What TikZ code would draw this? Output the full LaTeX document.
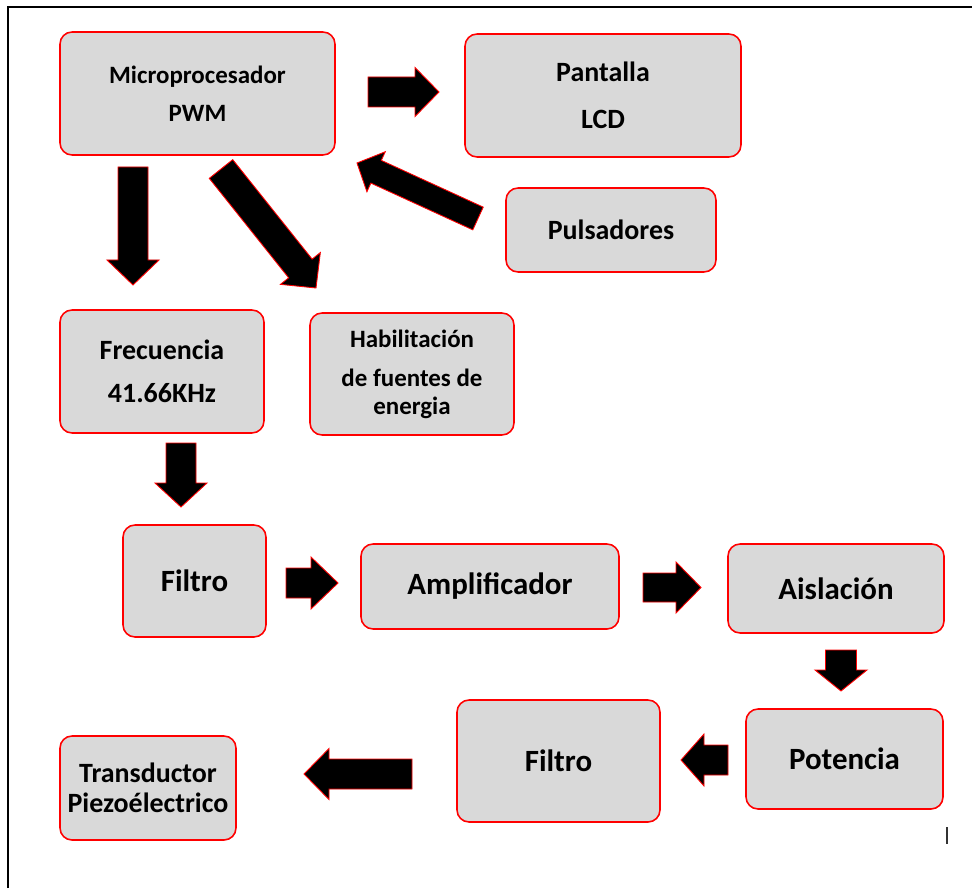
\documentclass[tikz,border=0pt]{standalone}
\usepackage{fontspec}
\setmainfont{Carlito}
\usetikzlibrary{calc,positioning}
\definecolor{cajagris}{HTML}{D9D9D9}
\tikzset{
  caja/.style={draw=red,fill=cajagris,line width=0.9pt,rounded corners=0.24cm,inner sep=0pt,align=center,font=\bfseries},
  chico/.style={font=\bfseries\fontsize{14.2}{21.5}\selectfont},
  medio/.style={font=\bfseries\fontsize{15.9}{24.6}\selectfont},
  grande/.style={font=\bfseries\fontsize{17.6}{22}\selectfont},
  flecha/.style={fill=black,draw=red,line width=0.5pt,line join=miter}
}
\newcommand{\flechabloque}[5]{%
  \pgfmathsetmacro{\arS}{#3*0.02}%
  \pgfmathsetmacro{\arH}{#4*0.02}%
  \pgfmathsetmacro{\arL}{#5*0.02}%
  \path ($(#2)!\arL cm!(#1)$) coordinate (hb);
  \draw[flecha] ($(#1)!\arS cm!90:(#2)$) -- ($(hb)!\arS cm!90:(#2)$) -- ($(hb)!\arH cm!90:(#2)$) -- (#2)
    -- ($(hb)!\arH cm!-90:(#2)$) -- ($(hb)!\arS cm!-90:(#2)$) -- ($(#1)!\arS cm!-90:(#2)$) -- cycle;
}
\begin{document}
\begin{tikzpicture}[x=0.02cm,y=-0.02cm]
	\useasboundingbox (0,0) rectangle (972,888);
	\fill[white] (0,0) rectangle (972,888);
	\draw[line width=1.7pt] (8,888)--(8,7)--(972,7);
	\node[caja,chico,minimum width=5.5cm,minimum height=2.46cm] (micro) at (197.5,93.5) {Microprocesador\\PWM};
	\node[caja,medio,minimum width=5.52cm,minimum height=2.46cm] (lcd) at (603,95.5) {Pantalla\\[2pt]LCD};
	\node[caja,medio,minimum width=4.2cm,minimum height=1.68cm] (puls) at (611,230) {Pulsadores};
	\node[caja,medio,minimum width=4.08cm,minimum height=2.46cm] (frec) at (162,371.5) {Frecuencia\\41.66KHz};
	\node[caja,chico,font=\bfseries\fontsize{14.2}{15.9}\selectfont,minimum width=4.08cm,minimum height=2.44cm] (habil) at (412,374) {Habilitación\\[6.2pt]de fuentes de\\energia};
	\node[caja,grande,minimum width=2.86cm,minimum height=2.24cm] (filtroA) at (194.5,581) {Filtro};
	\node[caja,grande,minimum width=5.16cm,minimum height=1.7cm] (ampl) at (490,586.5) {Amplificador};
	\node[caja,grande,minimum width=4.32cm,minimum height=1.78cm] (aisl) at (836,588.5) {Aislación};
	\node[caja,grande,minimum width=3.94cm,minimum height=2cm] (pot) at (844.5,759) {Potencia};
	\node[caja,grande,minimum width=4.06cm,minimum height=2.44cm] (filtroB) at (558.5,761) {Filtro};
	\node[caja,medio,font=\bfseries\fontsize{15.9}{17}\selectfont,minimum width=3.52cm,minimum height=2.08cm] (trans) at (148,788) {Transductor\\Piezoélectrico};
	\coordinate (a1) at (368,92);      \coordinate (b1) at (439,92);
	\coordinate (a2) at (133,167);     \coordinate (b2) at (133,285);
	\coordinate (a3) at (221,169);     \coordinate (b3) at (316,288);
	\coordinate (a4) at (478,218.5);   \coordinate (b4) at (357,163);
	\coordinate (a5) at (181,443);     \coordinate (b5) at (181,507);
	\coordinate (a6) at (286,583);     \coordinate (b6) at (338,583);
	\coordinate (a7) at (643,587.5);   \coordinate (b7) at (701,587.5);
	\coordinate (a8) at (841,650);     \coordinate (b8) at (841,691);
	\coordinate (a9) at (728,760);     \coordinate (b9) at (681,760);
	\coordinate (a10) at (412,774);    \coordinate (b10) at (304,774);
	\flechabloque{a1}{b1}{15}{24.5}{24}
	\flechabloque{a2}{b2}{15}{26}{25}
	\flechabloque{a3}{b3}{15}{25.5}{25}
	\flechabloque{a4}{b4}{12.5}{22}{21}
	\flechabloque{a5}{b5}{15}{26}{24}
	\flechabloque{a6}{b6}{15}{26}{27}
	\flechabloque{a7}{b7}{14.5}{25.5}{25}
	\flechabloque{a8}{b8}{15.5}{26}{21}
	\flechabloque{a9}{b9}{15}{26}{23}
	\flechabloque{a10}{b10}{15}{25.5}{25}
	\draw[line width=0.6pt,black!80] (947,827)--(947,844);
\end{tikzpicture}
\end{document}
